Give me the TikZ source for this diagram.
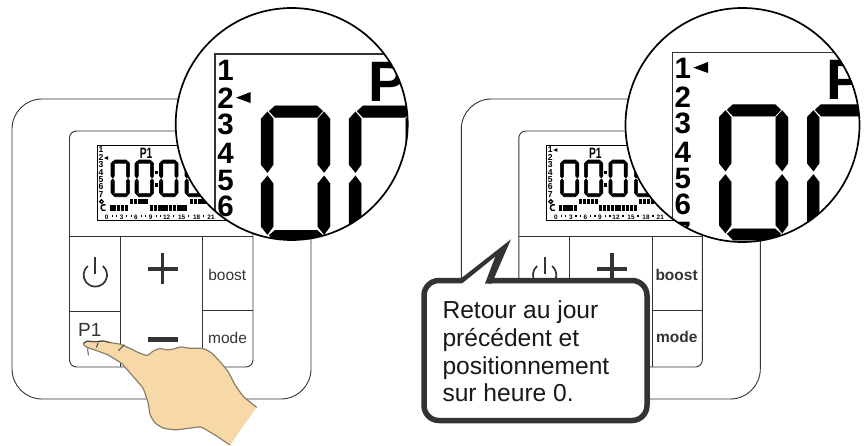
\documentclass[tikz,border=0pt]{standalone}
\usepackage{graphicx}
\usepackage{fontspec}
\setmainfont{Liberation Sans}
\definecolor{ink}{HTML}{333333}
\definecolor{handfill}{HTML}{F7D9A8}
\definecolor{handline}{HTML}{8C7F6A}
\newcommand{\fsz}[1]{\fontsize{#1}{#1}\selectfont}
\newcommand{\lcddigit}[4]{%
 \begin{scope}[shift={(#1,#2)},scale=#3,line width=#4,line join=round]
  \filldraw (8,5.5)--(14,0)--(56,0)--(62,5.5)--(56,12)--(14,12)--cycle;
  \filldraw (8,129.5)--(14,124.3)--(56,124.3)--(62,129.5)--(56,136)--(14,136)--cycle;
  \foreach \dx in {0,56.7}{
   \filldraw (\dx,13)--(\dx+6.5,6)--(\dx+12.3,13)--(\dx+12.3,59)--(\dx+6.5,67)--(\dx,59)--cycle;
   \filldraw (\dx,77.7)--(\dx+6.5,70)--(\dx+12.3,77.7)--(\dx+12.3,121)--(\dx+6.5,129)--(\dx,121)--cycle;
  }
 \end{scope}}
\newcommand{\devicebase}[2]{%
 \begin{scope}[shift={(#1,0)}]
  \draw[devline,rounded corners=30] (12,99) rectangle (311,399);
  \draw[devline,rounded corners=7] (69.5,131) rectangle (253,367);
  \draw[devline] (69.5,236)--(253,236);
  \draw[devline] (120,236)--(120,367);
  \draw[devline] (202.7,236)--(202.7,367);
  \draw[devline] (69.5,311)--(120,311);
  \draw[devline] (202.7,310.5)--(253,310.5);
  % small LCD
  \draw[black,line width=1] (97.5,145.7) rectangle (245,220.7);
  \lcddigit{111}{160}{0.27}{0.6}
  \lcddigit{135}{160}{0.27}{0.6}
  \lcddigit{159.5}{160}{0.27}{0.6}
  \lcddigit{185}{160}{0.27}{0.6}
  \fill (154.8,171) rectangle (158,174.4);
  \fill (154.8,183.3) rectangle (158,186.7);
  \foreach \i in {1,...,7}{
   \node[smallnum] (n\i-#1) at (101,{150+7.35*(\i-1)}) {\i};
  }
  \node[font=\bfseries\fsz{15},inner sep=0] (pone-#1) at (146,153.5) {\scalebox{0.68}[1]{P1}};
  \fill (104,{#2}) -- (108,{#2-1.8}) -- (108,{#2+1.8}) -- cycle;
  \draw[line width=1.3] (101.5,201.6) circle (1.9pt);
  \draw[line width=1.4] (105.5,205) arc[start angle=60,end angle=300,radius=3pt];
  \foreach \bx in {109.5,113.3,...,125}{\fill (\bx,205) rectangle (\bx+3.1,210.7);}
  \foreach \bx in {130,133.8,...,146}{\fill (\bx,198.7) rectangle (\bx+3.1,204);}
  \foreach \bx in {150,153.8,...,186}{\fill (\bx,205) rectangle (\bx+3.1,210.7);}
  \foreach \bx in {190,193.8,...,215}{\fill (\bx,198.7) rectangle (\bx+3.1,204);}
  \foreach \hx/\hl in {106.7/0,121.7/3,136/6,150.7/9,166.7/12,181.7/15,196.7/18,211/21}{
   \node[hourlab] (h\hl-#1) at (\hx,217.6) {\hl};
  }
  \foreach \dx in {111.5,115.5,126,130.5,140.5,145,155.5,160,173,188,203}{
   \fill (\dx,215.4) rectangle (\dx+1.2,216.6);
  }
  % buttons
  \draw[ink,line width=1.7] (87.8,266) arc[start angle=130,end angle=410,radius=11.7pt];
  \draw[ink,line width=2] (95.3,256.7)--(95.3,274.3);
  \fill[ink] (147.7,267) rectangle (177.7,270.5);
  \fill[ink] (161,253.3) rectangle (164.4,284);
  \fill[ink] (147.7,337) rectangle (177.7,341.5);
 \end{scope}}
\newcommand{\lens}[7]{%
 % cx cy r framex framey digitx digity
 \fill[white] (#1,#2) circle (#3pt);
 \begin{scope}
  \clip (#1,#2) circle (#3pt);
  \draw[ink,line width=1.5] (#4,400)--(#4,#5)--(900,#5);
  \lcddigit{#6}{#7}{1}{0.01}
  \lcddigit{#6+88}{#7}{1}{0.01}
 \end{scope}}
\tikzset{
 devline/.style={draw=ink,line width=0.9},
 smallnum/.style={font=\bfseries\fsz{8.6},inner sep=0},
 hourlab/.style={font=\bfseries\fsz{6.4},inner sep=0},
 lensnum/.style={font=\bfseries\fsz{29.5},inner sep=0},
 keylab/.style={text=ink,inner sep=0,anchor=base,font=\fsz{15.5}},
 keybold/.style={keylab,font=\bfseries\fsz{15.5}},
 lensrim/.style={draw=black,line width=1.7},
 calltext/.style={inner sep=0,anchor=base west,font=\fsz{24.6},text=black!90},
}
\begin{document}
\begin{tikzpicture}[x=1pt,y=-1pt]
\useasboundingbox (0,0) rectangle (865,445);
% ---------- left device
\devicebase{0}{158}
\node[keylab] (boostL) at (227.3,280) {boost};
\node[keylab] (modeL) at (227.5,343) {mode};
\node[keylab,font=\fsz{19},anchor=base west] (p1L) at (78,336.7) {P1};
\lens{291.7}{124}{116}{215}{54}{261}{105.7}
\begin{scope}
 \clip (291.7,124) circle (116pt);
 \foreach \i/\yy in {1/70,2/98,3/124,4/153,5/180,6/206}{
  \node[lensnum] (lnL\i) at (225.7,\yy) {\i};
 }
 \fill (236,97.7)--(250.7,92)--(250.7,103)--cycle;
 \node[font=\bfseries\fsz{57},inner sep=0,anchor=base west] (bigPL) at (368,101) {P};
\end{scope}
\draw[lensrim] (291.7,124) circle (116pt);
% ---------- right device
\devicebase{449.3}{150}
\node[keybold] (boostR) at (676.6,280) {boost};
\node[keybold] (modeR) at (676.8,342.5) {mode};
\lens{742.5}{125}{117}{672.3}{52.7}{719}{104.3}
\begin{scope}
 \clip (742.5,125) circle (117pt);
 \foreach \i/\yy in {1/68,2/96.7,3/123,4/152,5/178,6/204,7/232}{
  \node[lensnum] (lnR\i) at (682.7,\yy) {\i};
 }
 \fill (693.3,67.7)--(708,62)--(708,73)--cycle;
 \node[font=\bfseries\fsz{57},inner sep=0,anchor=base west] (bigPR) at (826.5,99.3) {P};
\end{scope}
\draw[lensrim] (742.5,125) circle (117pt);
% ---------- hand
\begin{scope}[shift={(75,330)},x=0.3333pt,y=-0.3333pt]
 \path[fill=handfill,draw=handline,line width=1.2,line join=round,rounded corners=2.5pt]
  (465,345)--(420,315)--(378,290)--(340,295)--(300,300)--(265,295)--(240,280)--(225,255)--(220,220)--(205,175)--(175,140)--(140,100)--(100,75)--(60,60)--(35,52)--(22,42)--(35,33)--(60,35)--(85,32)--(105,38)--(135,42)--(165,55)--(195,70)--(218,78)--(235,62)--(255,55)--(275,60)--(295,58)--(315,50)--(345,55)--(385,55)--(410,68)--(435,95)--(460,125)--(480,165)--(505,200)--(545,232);
 \draw[black!75,line width=0.9] (26,40)--(36,33)--(58,36);
 \draw[black!75,line width=0.9] (60,36)--(85,33)--(104,38);
 \draw[black!75,line width=0.9] (38,55)--(40,76);
 \draw[black!75,line width=0.9] (70,38)--(64,52);
 \draw[black!75,line width=0.9] (148,44)--(130,62);
\end{scope}
% ---------- callout
\draw[draw=ink,line width=5.5,fill=white,rounded corners=15] (424,280.5) rectangle (647,420.5);
\fill[ink] (457,281.5)--(511,239.3)--(491.7,283.7)--cycle;
\fill[white] (461,284.5)--(495,257)--(484.5,284.5)--cycle;
\node[calltext] (t1) at (442.3,318.3) {Retour au jour};
\node[calltext] (t2) at (442.3,346.7) {précédent et};
\node[calltext] (t3) at (442.3,374) {positionnement};
\node[calltext] (t4) at (442.3,401.7) {sur heure 0.};
\end{tikzpicture}
\end{document}
